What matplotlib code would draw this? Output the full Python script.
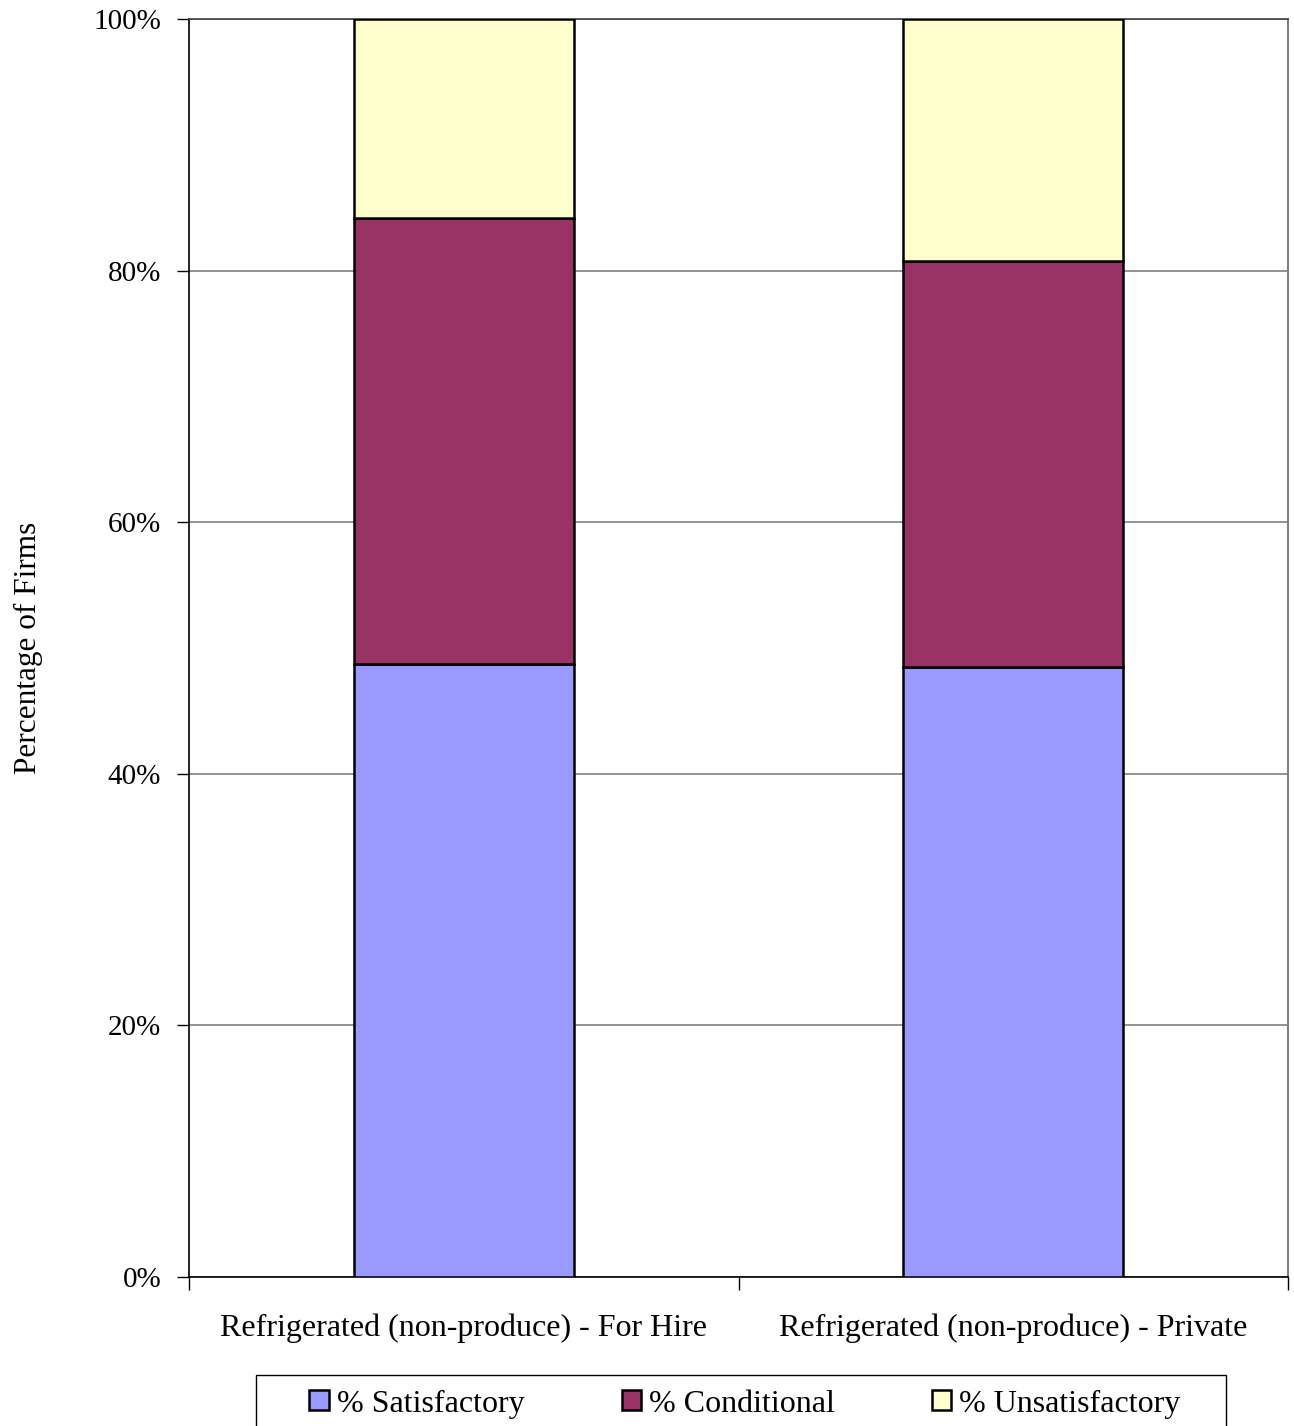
import matplotlib
matplotlib.use("Agg")
import matplotlib.pyplot as plt
from matplotlib.patches import Rectangle
import numpy as np

categories = ["Refrigerated (non-produce) - For Hire", "Refrigerated (non-produce) - Private"]
series_names = ["% Satisfactory", "% Conditional", "% Unsatisfactory"]
satisfactory = [48.7, 48.5]
conditional = [35.5, 32.3]
unsatisfactory = [15.8, 19.2]
colors = ["#9999FF", "#993366", "#FFFFCC"]
yticks = [0, 20, 40, 60, 80, 100]
ytick_labels = ["0%", "20%", "40%", "60%", "80%", "100%"]

plt.rcParams['font.family'] = ['Liberation Serif', 'DejaVu Serif']

W, H = 1294, 1426
fig = plt.figure(figsize=(W/100, H/100), dpi=100)
ax = fig.add_axes([189/W, 1 - 1277/H, (1288-189)/W, (1277-19)/H])

x = np.arange(len(categories))
bottom = np.zeros(len(categories))
handles = []
for vals, c, name in zip([satisfactory, conditional, unsatisfactory], colors, series_names):
    b = ax.bar(x, vals, width=0.4, bottom=bottom, color=c, edgecolor='black', linewidth=1.8, label=name, zorder=3)
    handles.append(b)
    bottom += np.array(vals)

ax.set_xlim(-0.5, 1.5)
ax.set_ylim(0, 100)
ax.set_yticks(yticks)
ax.set_yticklabels(ytick_labels, fontsize=21)
ax.yaxis.grid(True, color='#808080', linewidth=1.2, zorder=0)
ax.set_axisbelow(True)
ax.set_xticks(x)
ax.set_xticklabels(categories, fontsize=23)
ax.tick_params(axis='x', length=0, pad=26)
ax.set_xticks([-0.5, 0.5, 1.5], minor=True)
ax.tick_params(axis='x', which='minor', length=9, width=1, direction='out', color='black')
ax.tick_params(axis='y', length=9, width=1, direction='out', pad=11)
ax.set_ylabel("Percentage of Firms", fontsize=22.5, labelpad=36)

for s in ['left', 'bottom']:
    ax.spines[s].set_color('black')
    ax.spines[s].set_linewidth(1.2)
ax.spines['top'].set_color('#404040')
ax.spines['top'].set_linewidth(1.2)
ax.spines['right'].set_color('#808080')
ax.spines['right'].set_linewidth(1.5)

# legend frame (extends past the bottom edge as in the reference)
fig.patches.append(Rectangle((256/W, -0.02), (1226-256)/W, 0.02 + (1426-1375)/H,
                             transform=fig.transFigure, facecolor='white',
                             edgecolor='black', linewidth=1.0, zorder=1))
leg = fig.legend(handles=handles, labels=series_names, loc='center',
                 bbox_to_anchor=(745/W, 1 - 1404/H),
                 ncol=3, fontsize=23, frameon=False,
                 handlelength=0.6, handleheight=0.6, handletextpad=0.25,
                 columnspacing=3.05, borderpad=0.0)
leg.set_zorder(5)

fig.savefig("out.png", dpi=100)
